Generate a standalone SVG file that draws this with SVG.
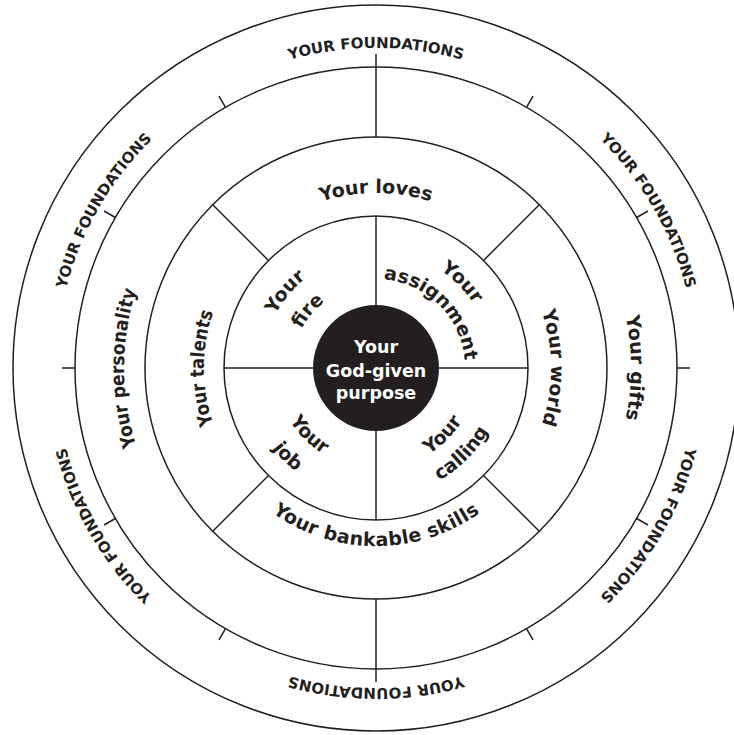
<svg xmlns="http://www.w3.org/2000/svg" width="734" height="735" viewBox="0 0 734 735">
<style>
.ring{fill:none;stroke:#231f20;stroke-width:1.5}
.ln{stroke:#231f20;stroke-width:1.5;fill:none}
.t{font-family:"DejaVu Sans","Liberation Sans",sans-serif;font-weight:bold;fill:#231f20}
.o{font-size:15px}
.s{font-size:19px}
.c{font-size:17.5px;fill:#ffffff;text-anchor:middle}
</style>
<defs>
<path id="pTop" d="M149.7,141.7 A320,320 0 0 1 602.3,141.7"/>
<path id="pUR" d="M458.8,58.9 A320,320 0 0 1 685.1,450.8"/>
<path id="pLR" d="M685.1,285.2 A320,320 0 0 1 458.8,677.1"/>
<path id="pBot" d="M602.3,594.3 A320,320 0 0 1 149.7,594.3"/>
<path id="pLL" d="M293.2,677.1 A320,320 0 0 1 66.9,285.2"/>
<path id="pUL" d="M66.9,450.8 A320,320 0 0 1 293.2,58.9"/>
<path id="pLoves" d="M224.4,280.5 A175,175 0 0 1 527.6,280.5"/>
<path id="pWorld" d="M463.5,216.4 A175,175 0 0 1 463.5,519.6"/>
<path id="pTalents" d="M290,517 A172,172 0 0 1 290,219"/>
<path id="pSkills" d="M208.7,428.9 A178,178 0 0 0 543.3,428.9"/>
<path id="pPers" d="M250,586.2 A252,252 0 0 1 250,149.8"/>
<path id="pGifts" d="M503.5,147.2 A255,255 0 0 1 503.5,588.8"/>
<path id="pFire1" d="M268.9,407 A114,114 0 0 1 395.8,255.7"/>
<path id="pFire2" d="M297.1,396.7 A84,84 0 0 1 390.6,285.3"/>
<path id="pAs1" d="M345.7,255 A117,117 0 0 1 489,398.3"/>
<path id="pAs2" d="M352.97,282.03 A89,89 0 0 1 461.97,391.03"/>
<path id="pCal1" d="M349.9,465.6 A101,101 0 0 0 473.6,341.9"/>
<path id="pCal2" d="M342.6,492.6 A129,129 0 0 0 500.6,334.6"/>
<path id="pJob1" d="M278.4,341.9 A101,101 0 0 0 402.1,465.6"/>
<path id="pJob2" d="M249.5,334.1 A131,131 0 0 0 409.9,494.5"/>
</defs>

<g id="rings">
<circle class="ring" cx="376" cy="368" r="363"/>
<circle class="ring" cx="376" cy="368" r="301"/>
<circle class="ring" cx="376" cy="368" r="231"/>
<circle class="ring" cx="376" cy="368" r="152"/>
</g>

<g id="connectors">
<line class="ln" x1="376" y1="305" x2="376" y2="216"/>
<line class="ln" x1="376" y1="431" x2="376" y2="520"/>
<line class="ln" x1="313" y1="368" x2="224" y2="368"/>
<line class="ln" x1="439" y1="368" x2="528" y2="368"/>
<line class="ln" x1="268.5" y1="260.5" x2="212.7" y2="204.7"/>
<line class="ln" x1="483.5" y1="260.5" x2="539.3" y2="204.7"/>
<line class="ln" x1="483.5" y1="475.5" x2="539.3" y2="531.3"/>
<line class="ln" x1="268.5" y1="475.5" x2="212.7" y2="531.3"/>
<line class="ln" x1="376" y1="137" x2="376" y2="54"/>
<line class="ln" x1="376" y1="599" x2="376" y2="682"/>
<line class="ln" x1="677" y1="368" x2="690" y2="368"/>
<line class="ln" x1="636.7" y1="518.5" x2="647.9" y2="525"/>
<line class="ln" x1="526.5" y1="628.7" x2="533" y2="639.9"/>
<line class="ln" x1="225.5" y1="628.7" x2="219" y2="639.9"/>
<line class="ln" x1="115.3" y1="518.5" x2="104.1" y2="525"/>
<line class="ln" x1="75" y1="368" x2="62" y2="368"/>
<line class="ln" x1="115.3" y1="217.5" x2="104.1" y2="211"/>
<line class="ln" x1="225.5" y1="107.3" x2="219" y2="96.1"/>
<line class="ln" x1="526.5" y1="107.3" x2="533" y2="96.1"/>
<line class="ln" x1="636.7" y1="217.5" x2="647.9" y2="211"/>
</g>

<g id="foundations" class="t o" text-anchor="middle">
<text><textPath href="#pTop" startOffset="50%">YOUR FOUNDATIONS</textPath></text>
<text><textPath href="#pUR" startOffset="50%">YOUR FOUNDATIONS</textPath></text>
<text><textPath href="#pLR" startOffset="50%">YOUR FOUNDATIONS</textPath></text>
<text><textPath href="#pBot" startOffset="50%">YOUR FOUNDATIONS</textPath></text>
<text><textPath href="#pLL" startOffset="50%">YOUR FOUNDATIONS</textPath></text>
<text><textPath href="#pUL" startOffset="50%">YOUR FOUNDATIONS</textPath></text>
</g>

<g id="personality" class="t s" text-anchor="middle"><text><textPath href="#pPers" startOffset="50%" textLength="158" lengthAdjust="spacingAndGlyphs">Your personality</textPath></text></g>
<g id="gifts" class="t s" text-anchor="middle"><text><textPath href="#pGifts" startOffset="50%">Your gifts</textPath></text></g>
<g id="loves" class="t s" text-anchor="middle"><text><textPath href="#pLoves" startOffset="50%">Your loves</textPath></text></g>
<g id="world" class="t s" text-anchor="middle"><text><textPath href="#pWorld" startOffset="50%">Your world</textPath></text></g>
<g id="talents" class="t s" text-anchor="middle"><text><textPath href="#pTalents" startOffset="50%" textLength="114" lengthAdjust="spacingAndGlyphs">Your talents</textPath></text></g>
<g id="skills" class="t s" text-anchor="middle"><text><textPath href="#pSkills" startOffset="50%" textLength="222">Your bankable skills</textPath></text></g>

<g id="fire" class="t s" text-anchor="middle">
<text><textPath href="#pFire1" startOffset="50%">Your</textPath></text>
<text><textPath href="#pFire2" startOffset="50%">fire</textPath></text>
</g>
<g id="assignment" class="t s" text-anchor="middle">
<text><textPath href="#pAs1" startOffset="50%">Your</textPath></text>
<text><textPath href="#pAs2" startOffset="50%">assignment</textPath></text>
</g>
<g id="calling" class="t s" text-anchor="middle">
<text><textPath href="#pCal1" startOffset="50%">Your</textPath></text>
<text><textPath href="#pCal2" startOffset="50%">calling</textPath></text>
</g>
<g id="job" class="t s" text-anchor="middle">
<text><textPath href="#pJob1" startOffset="50%">Your</textPath></text>
<text><textPath href="#pJob2" startOffset="50%">job</textPath></text>
</g>

<g id="purpose">
<circle cx="376" cy="368" r="63" fill="#231f20"/>
<text class="t c" x="376" y="353">Your</text>
<text class="t c" x="376" y="376.5">God-given</text>
<text class="t c" x="376" y="398.5">purpose</text>
</g>
</svg>
